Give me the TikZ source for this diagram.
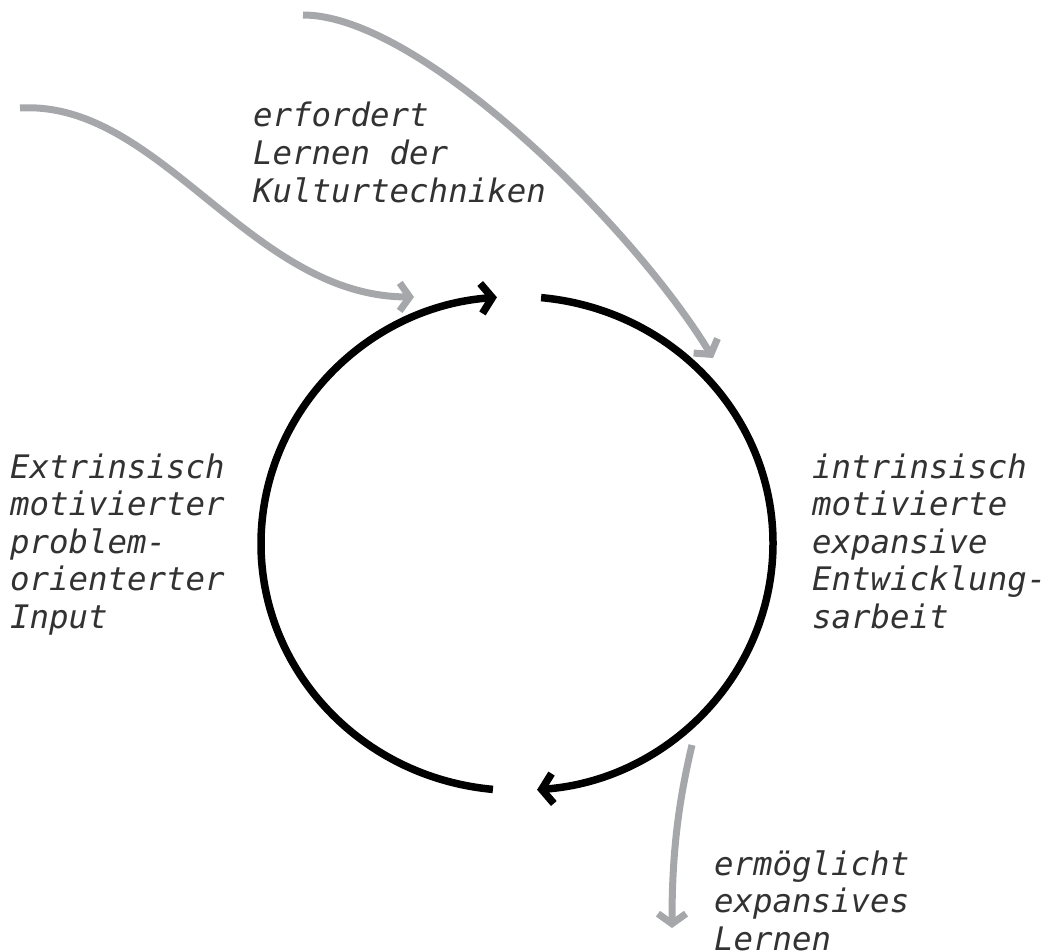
\documentclass[tikz,border=0pt]{standalone}
\usepackage{fontspec}
\setmonofont{DejaVu Sans Mono}
\usetikzlibrary{arrows.meta}
\definecolor{arrowgray}{RGB}{166,167,170}
\definecolor{txt}{RGB}{50,50,50}
\begin{document}
\begin{tikzpicture}[x=1pt,y=-1pt,
  lbl/.style={anchor=base west, inner sep=0pt, align=left,
    font=\ttfamily\itshape\fontsize{32.4}{37.6}\selectfont, text=txt},
  cyc/.style={draw=black, line width=7.5pt,
    -{Straight Barb[length=11pt,width=30pt,line join=miter]}},
  feed/.style={draw=arrowgray, line width=7pt,
    -{Straight Barb[length=10pt,width=28pt,line join=miter]}}]
\useasboundingbox (0,0) rectangle (1052,952);
% texts (base anchor = baseline of last line)
\node[lbl] (top) at (253,202.2) {erfordert\\Lernen der\\Kulturtechniken};
\node[lbl] (left) at (10,628.4) {Extrinsisch\\motivierter\\problem-\\orienterter\\Input};
\node[lbl] (right) at (812,628.4) {intrinsisch\\motivierte\\expansive\\Entwicklung-\\sarbeit};
\node[lbl] (bottom) at (714,950.2) {ermöglicht\\expansives\\Lernen};
% cycle
\coordinate (c) at (517,543.5);
\draw[cyc] (c) ++(84.6:256pt and 247pt)
  arc[start angle=84.6, end angle=-85.5, x radius=256pt, y radius=247pt];
\draw[cyc] (c) ++(264.6:256pt and 247pt)
  arc[start angle=264.6, end angle=94.5, x radius=256pt, y radius=247pt];
% grey arrows
\coordinate (a1s) at (20,108);
\coordinate (a1e) at (414,297);
\coordinate (a2s) at (303,15);
\coordinate (a2e) at (713,358);
\coordinate (a3s) at (692,745);
\coordinate (a3e) at (672,928);
\draw[feed] (a1s) .. controls (160,100) and (250,296) .. (a1e);
\draw[feed] (a2s) .. controls (420,15) and (632,225) .. (a2e);
\draw[feed] (a3s) .. controls (679,800) and (672,850) .. (a3e);
\end{tikzpicture}
\end{document}
